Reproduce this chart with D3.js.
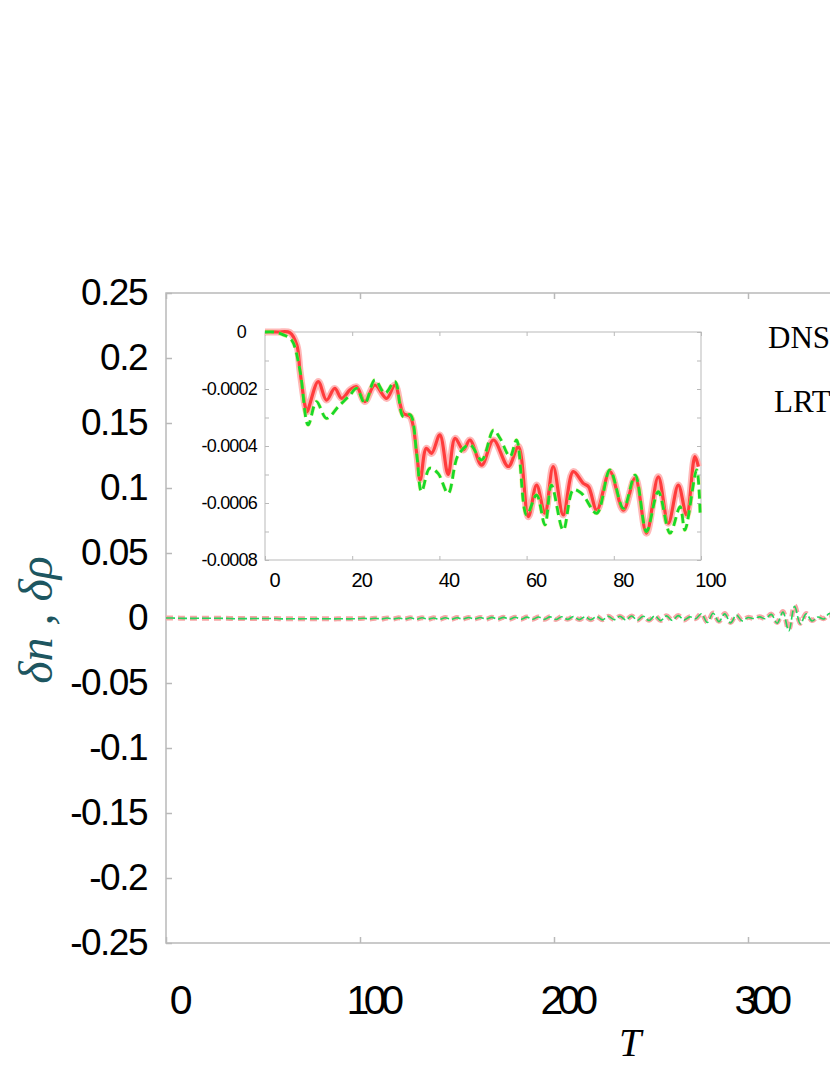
<!DOCTYPE html>
<html>
<head>
<meta charset="utf-8">
<script src="https://cdn.jsdelivr.net/npm/d3@7"></script>
<style>
  body { margin: 0; background: #fff; }
  svg { display: block; }
</style>
</head>
<body>
<svg id="chart" width="830" height="1075"></svg>
<script>
// main panel ticks
var xTicks = [0, 100, 200, 300];
var xTickLabels = ["0", "100", "200", "300"];
var yTicks = [0.25, 0.2, 0.15, 0.1, 0.05, 0, -0.05, -0.1, -0.15, -0.2, -0.25];
var yTickLabels = ["0.25", "0.2", "0.15", "0.1", "0.05", "0", "-0.05", "-0.1", "-0.15", "-0.2", "-0.25"];

// main panel series (values in units of 1e-3)
var mainT = [0, 3, 6, 9, 12, 15, 18, 21, 24, 27, 30, 33, 36, 39, 42, 45, 48, 51, 54, 57,
  60, 63, 66, 69, 72, 75, 78, 81, 84, 87, 90, 93, 96, 99, 102, 105, 108, 111, 114, 117,
  120, 123, 126, 129, 132, 135, 138, 141, 144, 147, 150, 153, 156, 159, 162, 165, 168, 171, 174, 177,
  180, 183, 186, 189, 192, 195, 198, 201, 204, 207, 210, 213, 216, 219, 222, 225, 228, 231, 234, 237,
  240, 243, 246, 249, 252, 255, 258, 261, 264, 267, 270, 273, 276, 279, 282, 285, 288, 291, 294, 297,
  300, 303, 306, 309, 312, 315, 318, 321, 324, 327, 330, 333, 336, 339, 342, 345];
var mainLRT = [0, 0, -0.05, -0.28, -0.18, -0.22, -0.2, -0.19, -0.22, -0.2,
  -0.25, -0.35, -0.5, -0.4, -0.5, -0.4, -0.42, -0.4, -0.45, -0.42,
  -0.62, -0.55, -0.5, -0.62, -0.5, -0.58, -0.5, -0.6, -0.52, -0.68,
  -0.5, -0.66, -0.52, -0.45, -0.2, -0.7, -0.1, -0.8, 0, -0.8,
  0.1, -0.8, 0.2, -0.9, 0.2, -0.9, 0.1, -1.0, 0.3, -1.0,
  0.3, -0.8, 0.4, -0.8, 0.4, -0.8, 0.5, -0.9, 0.5, -0.9,
  0.6, -0.9, 0.7, -0.9, 0.8, -1.0, 0.9, -1.1, 1.0, -1.0,
  1.1, -1.2, 1.0, -1.3, 1.2, -1.4, 1.3, -1.2, 1.4, -1.5,
  1.6, -1.7, 1.5, -1.8, 1.8, -1.9, 1.7, -1.8, 1.9, -1.5,
  1.0, -0.5, 3.5, -3.2, 3.8, -2.5, 3.4, -3.5, 2.5, -2.0,
  0.5, -0.3, 1.0, -0.5, 3.0, -3.5, 5.0, -9.0, 9.5, -4.0,
  3.5, -2.0, 1.0, -0.5, 3.0, -5.5];
var mainDNS = [0, -0.05, -0.2, -0.32, -0.26, -0.25, -0.22, -0.2, -0.2, -0.2,
  -0.29, -0.4, -0.55, -0.48, -0.48, -0.42, -0.4, -0.36, -0.42, -0.4,
  -0.65, -0.62, -0.55, -0.66, -0.56, -0.6, -0.5, -0.62, -0.55, -0.7,
  -0.56, -0.7, -0.6, -0.5, -0.25, -0.75, -0.15, -0.85, -0.05, -0.85,
  0.05, -0.85, 0.15, -0.95, 0.15, -0.95, 0.05, -1.05, 0.25, -1.05,
  0.25, -0.85, 0.35, -0.85, 0.35, -0.85, 0.45, -0.95, 0.45, -0.95,
  0.55, -0.95, 0.65, -0.95, 0.75, -1.05, 0.85, -1.15, 0.95, -1.05,
  1.05, -1.25, 0.95, -1.35, 1.15, -1.45, 1.25, -1.25, 1.35, -1.55,
  1.5, -1.8, 1.4, -1.9, 1.7, -2.0, 1.6, -1.9, 1.8, -1.6,
  0.9, -0.6, 3.3, -3.5, 3.6, -2.8, 3.2, -3.8, 2.3, -2.2,
  0.4, -0.4, 0.9, -0.6, 2.8, -4.0, 4.5, -10.0, 9.0, -4.5,
  3.2, -2.3, 0.8, -0.8, 3.5, -6.0];

// inset ticks
var insetXTicks = [0, 20, 40, 60, 80, 100];
var insetYTicks = [0, -0.0001, -0.0002, -0.0003, -0.0004, -0.0005, -0.0006, -0.0007, -0.0008];
var insetYLabels = ["0", "", "-0.0002", "", "-0.0004", "", "-0.0006", "", "-0.0008"];

// inset series (values in units of 1e-4)
var insetT_LRT = [0, 3, 5.7, 7.3, 8, 9.2, 9.6, 12.2, 14.1, 16, 17.6, 19.5, 21, 22.9, 25.2, 27.9, 29.8,
  31.7, 33.3, 34.8, 35.6, 37, 38.2, 40.1, 42, 43.6, 45.5, 47, 49.7, 52.4, 55.8, 58.1, 60.4, 62.3,
  64.2, 66.1, 68.4, 70.7, 73, 74.2, 76.1, 79.1, 82.2, 84.9, 87.5, 90.2, 92.5, 94.8, 96.7, 98.6, 99.4];
var insetLRT = [0, 0, -0.02, -0.46, -1.33, -2.6, -2.8, -1.74, -2.39, -1.98, -2.33, -2.03, -1.92, -2.44, -1.86, -2.33, -1.86,
  -2.85, -2.97, -4.26, -5.19, -4.08, -4.26, -3.61, -5.0, -3.73, -4.14, -3.79, -4.67, -3.79, -4.72, -4.02, -6.48, -5.37,
  -6.36, -4.72, -6.42, -4.9, -5.31, -5.43, -6.25, -4.9, -6.25, -5.13, -7.06, -5.08, -6.71, -5.37, -6.42, -4.37, -4.72];
var insetT_DNS = [0, 2, 4.2, 6.1, 8, 9.9, 11.8, 14.1, 16.8, 19.5, 21, 22.9, 25.2, 27.5, 29.8, 31.7, 33.3,
  34.8, 35.9, 37.8, 39.7, 42, 44.3, 47, 49.7, 52.4, 53.9, 56.2, 57.7, 60, 62.3, 64.2, 65.7, 68.4,
  70.7, 72.6, 76.1, 79.1, 82.2, 84.9, 87.5, 90.2, 92.9, 95.2, 96.3, 99, 99.8];
var insetDNS = [0, 0, -0.1, -0.28, -1.33, -3.26, -2.44, -3.03, -2.62, -2.21, -1.98, -2.5, -1.68, -2.15, -1.74, -2.97, -2.9,
  -4.3, -5.6, -4.78, -4.96, -5.66, -4.32, -3.96, -4.49, -3.44, -3.73, -4.37, -3.79, -6.42, -5.72, -6.77, -5.37, -6.95,
  -5.54, -5.66, -6.36, -4.84, -6.19, -5.02, -7.0, -5.6, -7.06, -6.13, -6.95, -4.84, -6.36];

var legendNames = ["DNS", "LRT"];

var svg = d3.select("#chart");
var frameColor = "#b9b9b9";

// ---- main panel ----
var x = d3.scaleLinear().domain([0, 500]).range([166, 1136]);
var y = d3.scaleLinear().domain([-0.25, 0.25]).range([943, 293]);

svg.append("rect")
  .attr("x", x(0)).attr("y", y(0.25))
  .attr("width", x(500) - x(0)).attr("height", y(-0.25) - y(0.25))
  .style("fill", "none").style("stroke", frameColor).style("stroke-width", 1.5);

var yAxis = svg.append("g")
  .attr("transform", "translate(" + x(0) + ",0)")
  .call(d3.axisLeft(y).tickValues(yTicks).tickSize(-6).tickPadding(19)
    .tickFormat(function (d, i) { return yTickLabels[i]; }));

var xAxis = svg.append("g")
  .attr("transform", "translate(0," + y(-0.25) + ")")
  .call(d3.axisBottom(x).tickValues(xTicks).tickSize(-6).tickPadding(42)
    .tickFormat(function (d, i) { return xTickLabels[i]; }));

var xTop = svg.append("g")
  .attr("transform", "translate(0," + y(0.25) + ")")
  .call(d3.axisTop(x).tickValues(xTicks).tickSize(-6).tickFormat(""));

[yAxis, xAxis, xTop].forEach(function (g) {
  g.select(".domain").remove();
  g.selectAll(".tick line").style("stroke", frameColor).style("stroke-width", 1.5);
});
yAxis.selectAll("text")
  .style("font-family", "Arial, 'Liberation Sans', sans-serif")
  .style("font-size", "37px").style("letter-spacing", "-1.5px").style("fill", "#000");
xAxis.selectAll("text")
  .attr("dx", 12)
  .style("font-family", "Arial, 'Liberation Sans', sans-serif")
  .style("font-size", "41px").style("letter-spacing", "-5.5px").style("fill", "#000");

var mainLine = d3.line()
  .x(function (d) { return x(d[0]); })
  .y(function (d) { return y(d[1] * 1e-3); })
  .curve(d3.curveCatmullRom);

// LRT: thick pale red, DNS: thin green dashed
svg.append("path")
  .datum(mainT.map(function (t, i) { return [t, mainLRT[i]]; }))
  .attr("d", mainLine)
  .style("fill", "none").style("stroke", "#f7a5a5")
  .style("stroke-width", 5).style("stroke-dasharray", "7,5");
svg.append("path")
  .datum(mainT.map(function (t, i) { return [t, mainDNS[i]]; }))
  .attr("d", mainLine)
  .style("fill", "none").style("stroke", "#22d45a")
  .style("stroke-width", 1.6).style("stroke-dasharray", "9,3");

// axis titles
svg.append("text")
  .attr("transform", "translate(52,620) rotate(-90)")
  .attr("text-anchor", "middle")
  .style("font-family", "'Liberation Serif', 'DejaVu Serif', serif")
  .style("font-style", "italic").style("font-size", "48px")
  .style("fill", "#1d5660")
  .text("δn , δρ");

svg.append("text")
  .attr("x", 630).attr("y", 1056)
  .attr("text-anchor", "middle")
  .style("font-family", "'Liberation Serif', 'DejaVu Serif', serif")
  .style("font-style", "italic").style("font-size", "40px")
  .text("T");

// legend labels (the line samples sit past the right edge)
svg.selectAll(".legend")
  .data(legendNames)
  .enter().append("text")
  .attr("class", "legend")
  .attr("x", function (d, i) { return 768 + i * 6; })
  .attr("y", function (d, i) { return 348 + i * 64; })
  .style("font-family", "'Liberation Serif', 'DejaVu Serif', serif")
  .style("font-size", "31px")
  .text(function (d) { return d; });

// ---- inset ----
var xi = d3.scaleLinear().domain([0, 100]).range([265, 701]);
var yi = d3.scaleLinear().domain([-0.0008, 0]).range([560, 332]);

svg.append("rect")
  .attr("x", xi(0)).attr("y", yi(0))
  .attr("width", xi(100) - xi(0)).attr("height", yi(-0.0008) - yi(0))
  .style("fill", "#fff").style("stroke", frameColor).style("stroke-width", 1);

var iyAxis = svg.append("g")
  .attr("transform", "translate(" + xi(0) + ",0)")
  .call(d3.axisLeft(yi).tickValues(insetYTicks).tickSize(-4).tickPadding(8)
    .tickFormat(function (d, i) { return insetYLabels[i]; }));
var iyRight = svg.append("g")
  .attr("transform", "translate(" + xi(100) + ",0)")
  .call(d3.axisRight(yi).tickValues(insetYTicks).tickSize(-4).tickFormat(""));
var ixAxis = svg.append("g")
  .attr("transform", "translate(0," + yi(-0.0008) + ")")
  .call(d3.axisBottom(xi).tickValues(insetXTicks).tickSize(-4).tickPadding(13)
    .tickFormat(function (d) { return String(d); }));
var ixTop = svg.append("g")
  .attr("transform", "translate(0," + yi(0) + ")")
  .call(d3.axisTop(xi).tickValues(insetXTicks).tickSize(-4).tickFormat(""));

[iyAxis, iyRight, ixAxis, ixTop].forEach(function (g) {
  g.select(".domain").remove();
  g.selectAll(".tick line").style("stroke", frameColor).style("stroke-width", 1);
});
iyAxis.selectAll("text")
  .attr("dx", function (d) { return d === 0 ? -11 : 0; })
  .style("font-family", "Arial, 'Liberation Sans', sans-serif")
  .style("font-size", "18px").style("letter-spacing", "-0.8px").style("fill", "#000");
ixAxis.selectAll("text")
  .attr("dx", 9)
  .style("font-family", "Arial, 'Liberation Sans', sans-serif")
  .style("font-size", "20px").style("letter-spacing", "-1px").style("fill", "#000");

var insetLine = d3.line()
  .x(function (d) { return xi(d[0]); })
  .y(function (d) { return yi(d[1] * 1e-4); })
  .curve(d3.curveCatmullRom);

var lrtData = insetT_LRT.map(function (t, i) { return [t, insetLRT[i]]; });
var dnsData = insetT_DNS.map(function (t, i) { return [t, insetDNS[i]]; });

svg.append("path").datum(lrtData).attr("d", insetLine)
  .style("fill", "none").style("stroke", "#ffb8b8").style("stroke-width", 7);
svg.append("path").datum(lrtData).attr("d", insetLine)
  .style("fill", "none").style("stroke", "#ff3c3c").style("stroke-width", 3.2);
svg.append("path").datum(dnsData).attr("d", insetLine)
  .style("fill", "none").style("stroke", "#e8f060").style("stroke-width", 4)
  .style("stroke-dasharray", "9,5").style("opacity", 0.5);
svg.append("path").datum(dnsData).attr("d", insetLine)
  .style("fill", "none").style("stroke", "#18d82a").style("stroke-width", 2.8)
  .style("stroke-dasharray", "9,5");
</script>
</body>
</html>
